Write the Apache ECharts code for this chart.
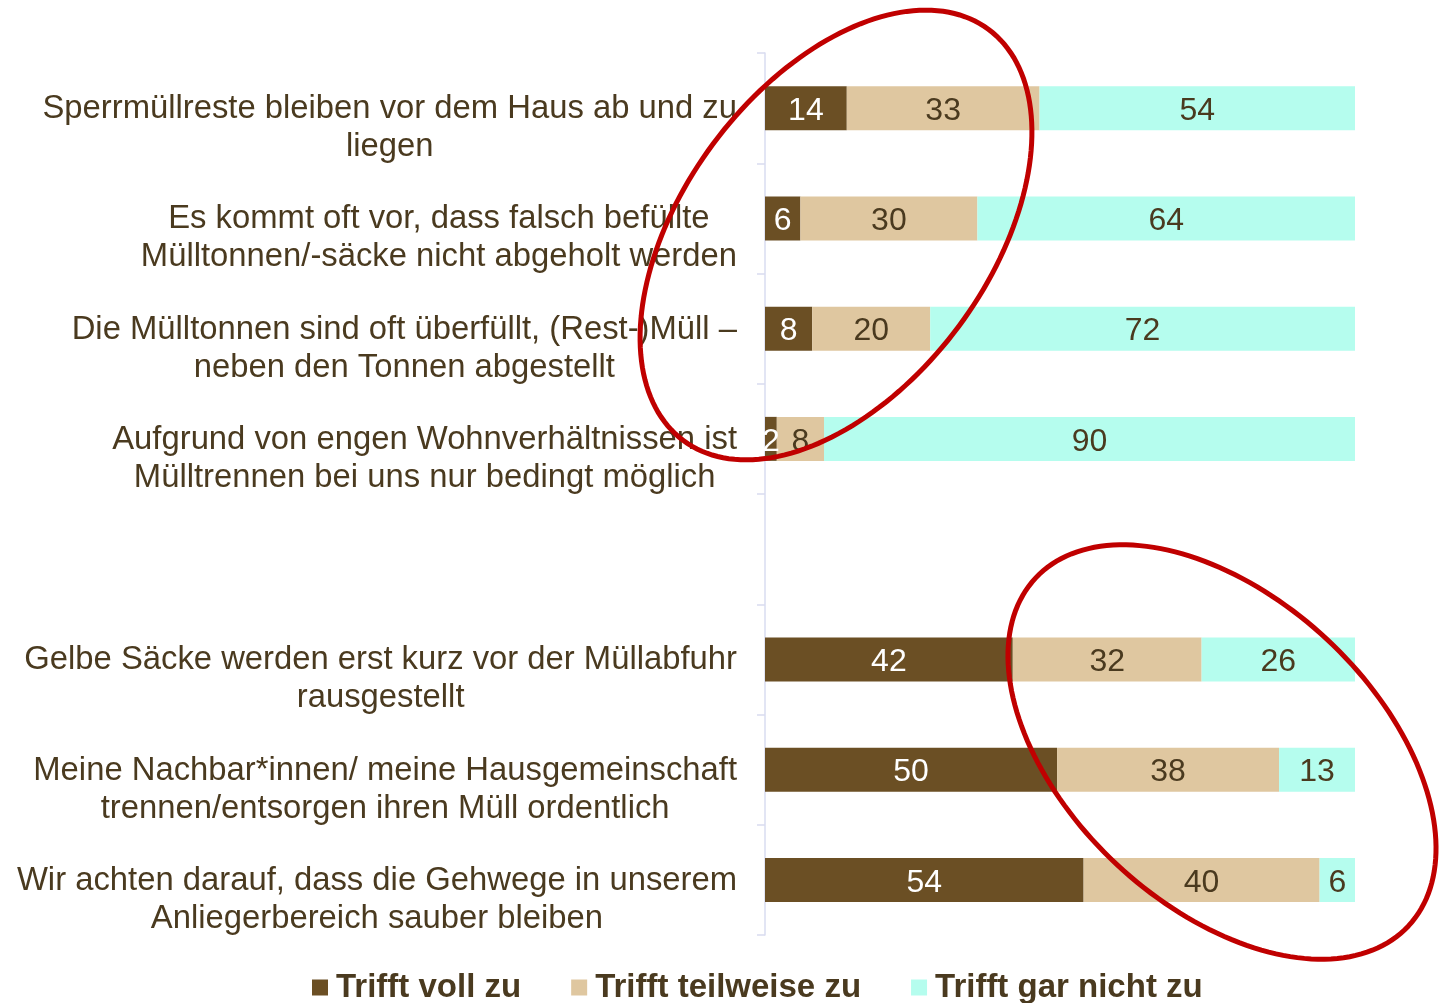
<!DOCTYPE html>
<html>
<head>
<meta charset="utf-8">
<script src="https://cdn.jsdelivr.net/npm/echarts@6/dist/echarts.min.js"></script>
<style>
  html, body { margin: 0; padding: 0; background: #fff; }
  #chart { width: 1443px; height: 1003px; }
</style>
</head>
<body>
<div id="chart"></div>
<script>
// Kategorien (leerer Eintrag = Lücke zwischen den Blöcken)
var categories = [
    'Sperrmüllreste bleiben vor dem Haus ab und zu\nliegen',
    'Es kommt oft vor, dass falsch befüllte\nMülltonnen/-säcke nicht abgeholt werden',
    'Die Mülltonnen sind oft überfüllt, (Rest-)Müll –\nneben den Tonnen abgestellt',
    'Aufgrund von engen Wohnverhältnissen ist\nMülltrennen bei uns nur bedingt möglich',
    '',
    'Gelbe Säcke werden erst kurz vor der Müllabfuhr\nrausgestellt',
    'Meine Nachbar*innen/ meine Hausgemeinschaft\ntrennen/entsorgen ihren Müll ordentlich',
    'Wir achten darauf, dass die Gehwege in unserem\nAnliegerbereich sauber bleiben'
];
var seriesNames = ['Trifft voll zu', 'Trifft teilweise zu', 'Trifft gar nicht zu'];
var vollZu     = [14, 6, 8, 2, null, 42, 50, 54];
var teilweise  = [33, 30, 20, 8, null, 32, 38, 40];
var garNicht   = [54, 64, 72, 90, null, 26, 13, 6];

var colors = ['#6b4f24', '#dfc7a0', '#b5fdee'];
var labelColors = ['#ffffff', '#4a3a1f', '#4a3a1f'];
var textColor = '#4a3a1f';

// 100%-Balken: Anteil je Zeile, Beschriftung mit Originalwert
function shares(arr) {
    return arr.map(function (v, i) {
        if (v === null) return '-';
        var total = vollZu[i] + teilweise[i] + garNicht[i];
        return { value: v / total * 100, raw: v };
    });
}
var raw = [vollZu, teilweise, garNicht];

var series = raw.map(function (arr, k) {
    return {
        name: seriesNames[k],
        type: 'bar',
        stack: 'total',
        barWidth: 44,
        itemStyle: { color: colors[k] },
        label: {
            show: true,
            position: 'inside',
            offset: [0, 3],
            color: labelColors[k],
            fontFamily: 'Liberation Sans, Arial',
            fontSize: 32,
            formatter: function (p) { return p.data.raw; }
        },
        data: shares(arr)
    };
});

// rote Ellipsen (Markierungen)
function ellipse(cx, cy, a, b, deg) {
    var t = deg * Math.PI / 180, pts = [];
    for (var i = 0; i < 180; i++) {
        var s = i / 180 * Math.PI * 2;
        var x = a * Math.cos(s), y = b * Math.sin(s);
        pts.push([cx + x * Math.cos(t) - y * Math.sin(t), cy + x * Math.sin(t) + y * Math.cos(t)]);
    }
    return {
        type: 'polygon',
        shape: { points: pts },
        style: { fill: null, stroke: '#c00000', lineWidth: 5 },
        z: 100
    };
}

var chart = echarts.init(document.getElementById('chart'));
chart.setOption({
    animation: false,
    grid: { left: 765, right: 88, top: 53, bottom: 68 },
    legend: {
        data: seriesNames,
        left: 307,
        top: 966,
        itemWidth: 16,
        itemHeight: 16,
        itemGap: 50,
        icon: 'rect',
        textStyle: {
            color: textColor,
            fontFamily: 'Liberation Sans Narrow, Liberation Sans, Arial',
            fontWeight: 'bold',
            fontSize: 33,
            padding: [0, 0, 0, 3]
        }
    },
    xAxis: {
        type: 'value',
        min: 0,
        max: 100,
        show: false
    },
    yAxis: {
        type: 'category',
        inverse: true,
        data: categories,
        axisLine: { lineStyle: { color: '#d9dcf0', width: 1.5 } },
        axisTick: { show: true, length: 8, lineStyle: { color: '#d9dcf0', width: 1.5 } },
        axisLabel: {
            margin: 28,
            padding: [40, 0, 0, 0],
            formatter: function (v) {
                return v.split('\n').map(function (l) { return '{c|' + l + '}'; }).join('\n');
            },
            rich: {
                c: {
                    align: 'center',
                    color: textColor,
                    fontFamily: 'Liberation Sans, Arial',
                    fontSize: 32.8,
                    lineHeight: 38
                }
            }
        }
    },
    series: series,
    graphic: [
        ellipse(836, 235, 256, 153, -53.4),
        ellipse(1222, 752, 255, 154, 43)
    ]
});
</script>
</body>
</html>
